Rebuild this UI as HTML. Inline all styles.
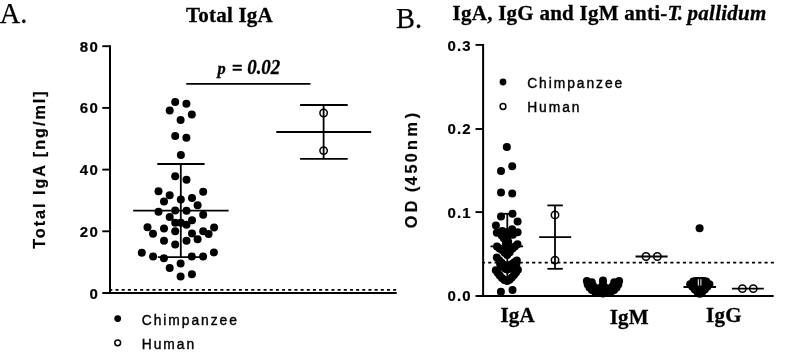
<!DOCTYPE html>
<html><head><meta charset="utf-8"><title>Figure</title>
<style>
html,body{margin:0;padding:0;background:#fff;}
body{width:787px;height:353px;overflow:hidden;}
svg{display:block;}
.serif{font-family:"Liberation Serif",serif;}
.sans{font-family:"Liberation Sans",sans-serif;}
.b{font-weight:bold;}
.i{font-style:italic;}
</style></head><body>
<svg width="787" height="353" viewBox="0 0 787 353">
<rect width="787" height="353" fill="#fff"/>
<g stroke="#000" fill="none">
<line x1="110" y1="45.3" x2="110" y2="293.9" stroke-width="2.0" />
<line x1="102.3" y1="293.1" x2="396.7" y2="293.1" stroke-width="2.0" />
<line x1="102.3" y1="46.2" x2="110" y2="46.2" stroke-width="1.9" />
<line x1="102.3" y1="107.9" x2="110" y2="107.9" stroke-width="1.9" />
<line x1="102.3" y1="169.6" x2="110" y2="169.6" stroke-width="1.9" />
<line x1="102.3" y1="231.3" x2="110" y2="231.3" stroke-width="1.9" />
<line x1="109.33" y1="289.9" x2="396.8" y2="289.9" stroke-width="1.8" stroke-dasharray="3.0 3.17"/>
<line x1="186.3" y1="83.9" x2="310.4" y2="83.9" stroke-width="1.8" />
<line x1="180.8" y1="164.0" x2="180.8" y2="257.2" stroke-width="1.8" />
<line x1="157.3" y1="164.0" x2="204.6" y2="164.0" stroke-width="1.8" />
<line x1="157.8" y1="257.2" x2="203.8" y2="257.2" stroke-width="1.8" />
<line x1="133.2" y1="210.6" x2="228.6" y2="210.6" stroke-width="1.8" />
<line x1="323.6" y1="105.0" x2="323.6" y2="158.9" stroke-width="1.8" />
<line x1="300.1" y1="105.0" x2="347.7" y2="105.0" stroke-width="1.8" />
<line x1="300.1" y1="158.9" x2="347.7" y2="158.9" stroke-width="1.8" />
<line x1="276.3" y1="132.0" x2="371.2" y2="132.0" stroke-width="1.8" />
<line x1="483.1" y1="43.95" x2="483.1" y2="296.9" stroke-width="2.0" />
<line x1="475.5" y1="295.9" x2="773.7" y2="295.9" stroke-width="2.0" />
<line x1="475.5" y1="44.9" x2="483.2" y2="44.9" stroke-width="1.9" />
<line x1="475.5" y1="129.0" x2="483.2" y2="129.0" stroke-width="1.9" />
<line x1="475.5" y1="212.1" x2="483.2" y2="212.1" stroke-width="1.9" />
<line x1="481.93" y1="262.6" x2="774" y2="262.6" stroke-width="1.8" stroke-dasharray="3.1 3.18"/>
<line x1="507.3" y1="213.8" x2="507.3" y2="280" stroke-width="1.8" />
<line x1="501" y1="213.8" x2="513" y2="213.8" stroke-width="1.8" />
<line x1="490.5" y1="246.4" x2="523.1" y2="246.4" stroke-width="1.8" />
<line x1="555" y1="205.4" x2="555" y2="268.8" stroke-width="1.8" />
<line x1="547.4" y1="205.4" x2="562.8" y2="205.4" stroke-width="1.8" />
<line x1="547.4" y1="268.8" x2="562.8" y2="268.8" stroke-width="1.8" />
<line x1="539.2" y1="237.1" x2="571.2" y2="237.1" stroke-width="1.8" />
<line x1="635.5" y1="256.5" x2="667.6" y2="256.5" stroke-width="1.8" />
<line x1="683.5" y1="287" x2="716" y2="287" stroke-width="1.8" />
<line x1="731.9" y1="288.6" x2="763.8" y2="288.6" stroke-width="1.8" />
</g>
<g fill="#000">
<circle cx="175.2" cy="102.1" r="4.0"/>
<circle cx="186.4" cy="103.8" r="4.0"/>
<circle cx="169.7" cy="110.6" r="4.0"/>
<circle cx="191.8" cy="114.4" r="4.0"/>
<circle cx="180.6" cy="120.1" r="4.0"/>
<circle cx="175.2" cy="136.1" r="4.0"/>
<circle cx="186.4" cy="137.8" r="4.0"/>
<circle cx="180.9" cy="155.0" r="4.0"/>
<circle cx="175.2" cy="176.2" r="4.0"/>
<circle cx="186.5" cy="179.8" r="4.0"/>
<circle cx="158.5" cy="191.3" r="4.0"/>
<circle cx="203.2" cy="191.7" r="4.0"/>
<circle cx="169.7" cy="195.2" r="4.0"/>
<circle cx="192.0" cy="198.1" r="4.0"/>
<circle cx="180.8" cy="199.4" r="4.0"/>
<circle cx="164.0" cy="201.5" r="4.0"/>
<circle cx="197.6" cy="205.2" r="4.0"/>
<circle cx="158.5" cy="211.7" r="4.0"/>
<circle cx="175.2" cy="210.6" r="4.0"/>
<circle cx="186.5" cy="210.8" r="4.0"/>
<circle cx="203.2" cy="214.8" r="4.0"/>
<circle cx="169.7" cy="216.9" r="4.0"/>
<circle cx="192.0" cy="220.2" r="4.0"/>
<circle cx="175.2" cy="222.8" r="4.0"/>
<circle cx="180.8" cy="222.8" r="4.0"/>
<circle cx="186.5" cy="224.8" r="4.0"/>
<circle cx="147.5" cy="227.2" r="4.0"/>
<circle cx="214.1" cy="227.5" r="4.0"/>
<circle cx="164.0" cy="228.4" r="4.0"/>
<circle cx="175.2" cy="231.3" r="4.0"/>
<circle cx="203.2" cy="231.3" r="4.0"/>
<circle cx="153.0" cy="233.8" r="4.0"/>
<circle cx="192.0" cy="233.6" r="4.0"/>
<circle cx="208.6" cy="233.9" r="4.0"/>
<circle cx="197.6" cy="239.3" r="4.0"/>
<circle cx="164.0" cy="240.7" r="4.0"/>
<circle cx="186.5" cy="240.7" r="4.0"/>
<circle cx="175.2" cy="244.4" r="4.0"/>
<circle cx="141.8" cy="252.7" r="4.0"/>
<circle cx="213.9" cy="252.4" r="4.0"/>
<circle cx="153.1" cy="256.6" r="4.0"/>
<circle cx="163.9" cy="258.2" r="4.0"/>
<circle cx="191.8" cy="256.6" r="4.0"/>
<circle cx="203.1" cy="256.6" r="4.0"/>
<circle cx="180.6" cy="263.6" r="4.0"/>
<circle cx="169.7" cy="268.0" r="4.0"/>
<circle cx="191.9" cy="274.3" r="4.0"/>
<circle cx="180.6" cy="276.5" r="4.0"/>
<circle cx="506.8" cy="146.9" r="4.0"/>
<circle cx="512.2" cy="166.3" r="4.0"/>
<circle cx="501.0" cy="171.1" r="4.0"/>
<circle cx="501.0" cy="192.5" r="4.0"/>
<circle cx="512.2" cy="193.5" r="4.0"/>
<circle cx="512.5" cy="213.8" r="4.0"/>
<circle cx="501.0" cy="216.5" r="4.0"/>
<circle cx="517.6" cy="221.4" r="4.0"/>
<circle cx="495.9" cy="225.4" r="4.0"/>
<circle cx="512.1" cy="229.3" r="4.0"/>
<circle cx="517.6" cy="232.2" r="4.0"/>
<circle cx="496.8" cy="232.7" r="4.0"/>
<circle cx="502.3" cy="231.0" r="4.0"/>
<circle cx="501.5" cy="235.2" r="4.0"/>
<circle cx="512.8" cy="234.8" r="4.0"/>
<circle cx="506.6" cy="232.3" r="4.0"/>
<circle cx="508.2" cy="242.0" r="4.0"/>
<circle cx="505.9" cy="243.6" r="4.0"/>
<circle cx="507.4" cy="238.0" r="4.0"/>
<circle cx="503.8" cy="238.2" r="4.0"/>
<circle cx="517.5" cy="244.3" r="4.0"/>
<circle cx="497.0" cy="246.5" r="4.0"/>
<circle cx="512.5" cy="248.5" r="4.0"/>
<circle cx="502.0" cy="250.0" r="4.0"/>
<circle cx="507.2" cy="248.5" r="4.0"/>
<circle cx="504.6" cy="252.6" r="4.0"/>
<circle cx="509.8" cy="252.2" r="4.0"/>
<circle cx="507.2" cy="255.0" r="4.0"/>
<circle cx="514.9" cy="246.5" r="4.0"/>
<circle cx="499.5" cy="248.4" r="4.0"/>
<circle cx="496.8" cy="257.6" r="4.0"/>
<circle cx="499.2" cy="260.3" r="4.0"/>
<circle cx="501.6" cy="262.8" r="4.0"/>
<circle cx="504.2" cy="265.0" r="4.0"/>
<circle cx="507.0" cy="266.4" r="4.0"/>
<circle cx="516.8" cy="260.4" r="4.0"/>
<circle cx="514.4" cy="262.2" r="4.0"/>
<circle cx="512.0" cy="264.0" r="4.0"/>
<circle cx="509.5" cy="265.6" r="4.0"/>
<circle cx="495.8" cy="270.3" r="4.0"/>
<circle cx="497.8" cy="273.0" r="4.0"/>
<circle cx="499.8" cy="275.6" r="4.0"/>
<circle cx="502.0" cy="278.0" r="4.0"/>
<circle cx="504.4" cy="280.0" r="4.0"/>
<circle cx="507.1" cy="281.0" r="4.0"/>
<circle cx="517.9" cy="269.8" r="4.0"/>
<circle cx="516.0" cy="272.5" r="4.0"/>
<circle cx="514.0" cy="275.0" r="4.0"/>
<circle cx="511.8" cy="277.5" r="4.0"/>
<circle cx="509.5" cy="279.8" r="4.0"/>
<circle cx="500.2" cy="264.2" r="4.0"/>
<circle cx="502.6" cy="266.6" r="4.0"/>
<circle cx="505.0" cy="268.6" r="4.0"/>
<circle cx="507.1" cy="269.6" r="4.0"/>
<circle cx="509.4" cy="268.8" r="4.0"/>
<circle cx="511.8" cy="267.2" r="4.0"/>
<circle cx="514.2" cy="265.4" r="4.0"/>
<circle cx="516.4" cy="263.4" r="4.0"/>
<circle cx="500.9" cy="291.8" r="4.0"/>
<circle cx="512.5" cy="289.9" r="4.0"/>
<circle cx="586.9" cy="281.1" r="4.0"/>
<circle cx="619.1" cy="281.1" r="4.0"/>
<circle cx="587.7" cy="284.5" r="4.0"/>
<circle cx="618.3" cy="284.5" r="4.0"/>
<circle cx="589.4" cy="287.5" r="4.0"/>
<circle cx="616.6" cy="287.5" r="4.0"/>
<circle cx="591.9" cy="289.9" r="4.0"/>
<circle cx="614.1" cy="289.9" r="4.0"/>
<circle cx="595.0" cy="291.7" r="4.0"/>
<circle cx="611.0" cy="291.7" r="4.0"/>
<circle cx="598.5" cy="293.0" r="4.0"/>
<circle cx="607.5" cy="293.0" r="4.0"/>
<circle cx="591.8" cy="282.2" r="4.0"/>
<circle cx="614.2" cy="282.2" r="4.0"/>
<circle cx="593.4" cy="286.2" r="4.0"/>
<circle cx="612.6" cy="286.2" r="4.0"/>
<circle cx="596.8" cy="288.6" r="4.0"/>
<circle cx="609.2" cy="288.6" r="4.0"/>
<circle cx="600.0" cy="290.3" r="4.0"/>
<circle cx="606.0" cy="290.3" r="4.0"/>
<circle cx="601.0" cy="287.5" r="4.0"/>
<circle cx="605.0" cy="287.5" r="4.0"/>
<circle cx="603.0" cy="293.6" r="4.0"/>
<circle cx="603.0" cy="280.6" r="4.0"/>
<circle cx="603.0" cy="284.0" r="4.0"/>
<circle cx="699.6" cy="228.2" r="4.0"/>
<circle cx="690.2" cy="284.2" r="4.0"/>
<circle cx="709.4" cy="284.2" r="4.0"/>
<circle cx="692.3" cy="286.8" r="4.0"/>
<circle cx="707.3" cy="286.8" r="4.0"/>
<circle cx="694.8" cy="289.4" r="4.0"/>
<circle cx="704.8" cy="289.4" r="4.0"/>
<circle cx="697.3" cy="291.8" r="4.0"/>
<circle cx="702.3" cy="291.8" r="4.0"/>
<circle cx="699.8" cy="293.8" r="4.0"/>
<circle cx="693.3" cy="281.4" r="4.0"/>
<circle cx="706.3" cy="281.4" r="4.0"/>
<circle cx="695.8" cy="281.0" r="4.0"/>
<circle cx="703.8" cy="281.0" r="4.0"/>
<circle cx="698.2" cy="281.0" r="4.0"/>
<circle cx="701.4" cy="281.0" r="4.0"/>
<circle cx="694.8" cy="284.5" r="4.0"/>
<circle cx="704.8" cy="284.5" r="4.0"/>
<circle cx="697.8" cy="285.5" r="4.0"/>
<circle cx="701.8" cy="285.5" r="4.0"/>
<circle cx="699.8" cy="288.0" r="4.0"/>
<circle cx="699.8" cy="288.0" r="4.0"/>
<circle cx="117.7" cy="318.6" r="3.4"/>
<circle cx="503" cy="82.0" r="3.4"/>
</g>
<g stroke="#fff" stroke-width="1.0">
<line x1="698.3" y1="279.2" x2="698.3" y2="285.6"/>
<line x1="700.9" y1="279.2" x2="700.9" y2="285.6"/>
</g>
<g stroke="#000" stroke-width="1.5" fill="none">
<circle cx="323.6" cy="113.0" r="3.7"/>
<circle cx="323.6" cy="150.6" r="3.7"/>
<circle cx="555" cy="214.9" r="3.7"/>
<circle cx="555" cy="260.1" r="3.7"/>
<circle cx="646" cy="256.5" r="3.7"/>
<circle cx="657.3" cy="256.5" r="3.7"/>
<circle cx="742.4" cy="288.6" r="3.7"/>
<circle cx="753.3" cy="288.6" r="3.7"/>
<circle cx="117.7" cy="342.8" r="2.9"/>
<circle cx="503" cy="106.5" r="2.9"/>
</g>
<g fill="#000">
<text class="serif" x="-0.2" y="23.1" font-size="28.4" stroke="#000" stroke-width="0.25">A.</text>
<text class="serif" x="396.0" y="27.6" font-size="28.4" stroke="#000" stroke-width="0.25">B.</text>
<g stroke="#000" stroke-width="0.3">
<text class="serif b" x="186.1" y="22.4" font-size="21" letter-spacing="0.2">Total IgA</text>
<text class="serif b" x="452.6" y="20.0" font-size="21" letter-spacing="0.25">IgA, IgG and IgM anti-<tspan class="i">T<tspan dx="-1.0">.</tspan><tspan dx="-1.1"> pallidum</tspan></tspan></text>
<text class="serif b i" transform="translate(217.4,73.5) scale(0.945,1)" font-size="20"><tspan font-size="17.3">p</tspan><tspan dx="1.5" dy="1.7"> =</tspan><tspan dy="-1.7"> 0.02</tspan></text>
<text class="serif b" x="500.4" y="321.6" font-size="21" letter-spacing="0.2">IgA</text>
<text class="serif b" x="609.7" y="324" font-size="21" letter-spacing="0.2">IgM</text>
<text class="serif b" x="706.1" y="321.5" font-size="21" letter-spacing="0.2">IgG</text>
</g>
<g class="sans b" font-size="15" letter-spacing="1.4" text-anchor="end" stroke="#000" stroke-width="0.2">
<text x="99.2" y="51.6">80</text>
<text x="99.2" y="113.3">60</text>
<text x="99.2" y="175.0">40</text>
<text x="99.2" y="236.7">20</text>
<text x="99.2" y="299.3">0</text>
<text x="471.7" y="51.3" letter-spacing="1.1">0.3</text>
<text x="471.7" y="134.4" letter-spacing="1.1">0.2</text>
<text x="471.7" y="217.5" letter-spacing="1.1">0.1</text>
<text x="471.7" y="301.2" letter-spacing="1.1">0.0</text>
</g>
<g class="sans" font-size="13.8" letter-spacing="1.95" stroke="#000" stroke-width="0.4">
<text x="141.8" y="324.7">Chimpanzee</text>
<text x="141.8" y="348.6">Human</text>
<text x="527.2" y="88.2">Chimpanzee</text>
<text x="527.2" y="112.0">Human</text>
</g>
<g class="sans b" font-size="16.2" stroke="#000" stroke-width="0.2">
<text letter-spacing="1.97" transform="translate(44.6,248.8) rotate(-90)">Total IgA [ng/ml]</text>
<text x="0 16.15 30 36.25 42.84 54.75 66 78.27 91.92 110.12" y="0" transform="translate(416.5,228.3) rotate(-90)">OD (450nm)</text>
</g>
</g>
</svg>
</body></html>
